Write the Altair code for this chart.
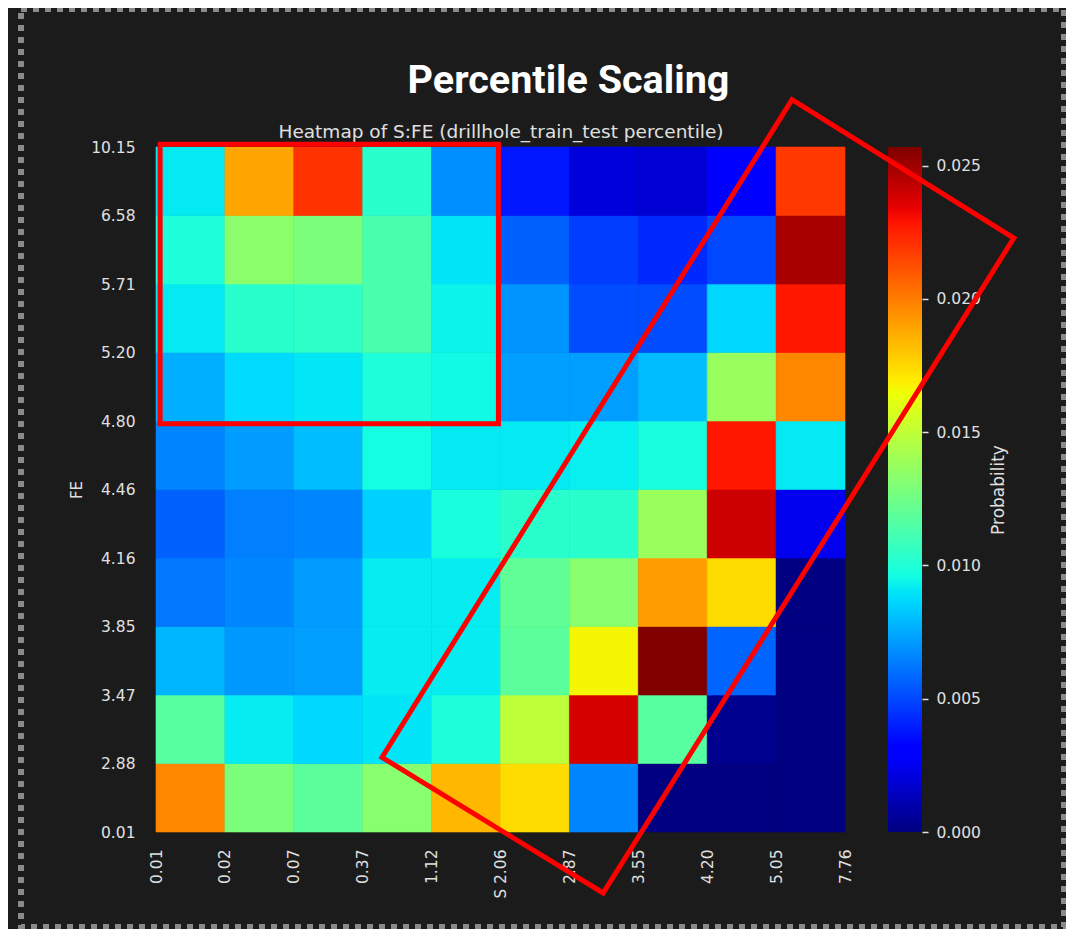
import json
import altair as alt
import pandas as pd

# ---------------- data ----------------
s_edges = ["0.01", "0.02", "0.07", "0.37", "1.12", "2.06", "2.87", "3.55", "4.20", "5.05", "7.76"]
fe_edges = ["0.01", "2.88", "3.47", "3.85", "4.16", "4.46", "4.80", "5.20", "5.71", "6.58", "10.15"]

# probabilities per FE bin (rows), columns follow the S bins left -> right
prob_fe_658_1015 = [0.00912, 0.01886, 0.02200, 0.01028, 0.00681, 0.00380, 0.00208, 0.00190, 0.00296, 0.02187]
prob_fe_571_658 = [0.00989, 0.01336, 0.01285, 0.01131, 0.00900, 0.00565, 0.00475, 0.00424, 0.00504, 0.02480]
prob_fe_520_571 = [0.00912, 0.01028, 0.01041, 0.01131, 0.00938, 0.00694, 0.00514, 0.00514, 0.00866, 0.02277]
prob_fe_480_520 = [0.00763, 0.00874, 0.00905, 0.00989, 0.00951, 0.00720, 0.00720, 0.00797, 0.01378, 0.01971]
prob_fe_446_480 = [0.00655, 0.00714, 0.00797, 0.00964, 0.00912, 0.00912, 0.00925, 0.00977, 0.02277, 0.00912]
prob_fe_416_446 = [0.00565, 0.00643, 0.00663, 0.00848, 0.00977, 0.01028, 0.01028, 0.01378, 0.02400, 0.00244]
prob_fe_385_416 = [0.00625, 0.00663, 0.00714, 0.00917, 0.00917, 0.01203, 0.01324, 0.01915, 0.01740, 0.00000]
prob_fe_347_385 = [0.00784, 0.00707, 0.00720, 0.00917, 0.00917, 0.01182, 0.01665, 0.02570, 0.00573, 0.00000]
prob_fe_288_347 = [0.01169, 0.00917, 0.00866, 0.00900, 0.00989, 0.01491, 0.02382, 0.01169, 0.00033, 0.00005]
prob_fe_001_288 = [0.01971, 0.01285, 0.01182, 0.01324, 0.01840, 0.01740, 0.00663, 0.00000, 0.00000, 0.00000]

rows_bottom_to_top = [
    prob_fe_001_288, prob_fe_288_347, prob_fe_347_385, prob_fe_385_416, prob_fe_416_446,
    prob_fe_446_480, prob_fe_480_520, prob_fe_520_571, prob_fe_571_658, prob_fe_658_1015,
]

# annotation outlines, in bin-index units (closed by repeating the first two vertices)
box_x = [0.06, 4.97, 4.97, 0.06, 0.06, 4.97]
box_y = [10.04, 10.04, 5.96, 5.96, 10.04, 10.04]
poly_x = [9.23, 12.45, 6.49, 3.28, 9.23, 12.45]
poly_y = [10.69, 8.67, -0.89, 1.09, 10.69, 8.67]

# jet colormap key points
jet_t = [0.0, 0.11, 0.125, 0.34, 0.35, 0.375, 0.64, 0.65, 0.66, 0.89, 0.91, 1.0]
jet_c = ["#000080", "#0000ff", "#0000ff", "#00dbff", "#00e5f7", "#14ffe2",
         "#eeff08", "#f7f500", "#ffec00", "#ff1300", "#e80000", "#800000"]

# ---------------- tables ----------------
records = []
for j, row in enumerate(rows_bottom_to_top):
    for i, v in enumerate(row):
        records.append({
            "x0": i, "x1": i + 1, "y0": j, "y1": j + 1, "prob": v,
            "S": f"{s_edges[i]}-{s_edges[i + 1]}", "FE": f"{fe_edges[j]}-{fe_edges[j + 1]}",
        })
df = pd.DataFrame(records)
vmax = float(df["prob"].max())

ann = []
for name, xs, ys in (("box", box_x, box_y), ("poly", poly_x, poly_y)):
    for k, (a, b) in enumerate(zip(xs, ys)):
        ann.append({"shape": name, "k": k, "px": a, "py": b})
ann_df = pd.DataFrame(ann)

TXT = "#e0e0e0"
FONT = "DejaVu Sans"
W, H = 689, 685

x_scale = alt.Scale(domain=[0, 10], nice=False, zero=False)
y_scale = alt.Scale(domain=[0, 10], nice=False, zero=False)

color_scale = alt.Scale(domain=[t * vmax for t in jet_t], range=jet_c, interpolate="rgb")

heat = alt.Chart(df).mark_rect(strokeWidth=0.6).encode(
    x=alt.X("x0:Q", scale=x_scale, axis=alt.Axis(
        orient="bottom", values=list(range(11)), labelExpr=json.dumps(s_edges) + "[datum.value]",
        labelAngle=270, labelPadding=17, tickSize=0, ticks=False, domain=False, grid=False,
        title="S", titleAngle=270, titleAlign="right", titleBaseline="middle", titlePadding=5)),
    x2="x1:Q",
    y=alt.Y("y0:Q", scale=y_scale, axis=alt.Axis(
        orient="left", values=list(range(11)), labelExpr=json.dumps(fe_edges) + "[datum.value]",
        labelPadding=21, tickSize=0, ticks=False, domain=False, grid=False,
        title="FE", titlePadding=6)),
    y2="y1:Q",
    color=alt.Color("prob:Q", scale=color_scale, legend=None),
    stroke=alt.Stroke("prob:Q", scale=color_scale, legend=None),
    tooltip=["S:N", "FE:N", alt.Tooltip("prob:Q", format=".4f")],
)

grad = alt.LinearGradient(
    gradient="linear",
    stops=[alt.GradientStop(offset=t, color=c) for t, c in zip(jet_t, jet_c)],
    x1=0, x2=0, y1=1, y2=0,
)
cbar = alt.Chart(pd.DataFrame({"lo": [0.0], "hi": [vmax]})).mark_rect(fill=grad, strokeWidth=0).encode(
    x=alt.value(732), x2=alt.value(766),
    y=alt.Y("lo:Q", scale=alt.Scale(domain=[0, vmax], nice=False, zero=False), axis=alt.Axis(
        orient="right", offset=77, values=[0, 0.005, 0.01, 0.015, 0.02, 0.025], format=".3f",
        tickSize=6, tickWidth=1.5, tickColor=TXT, domain=False, grid=False, labelPadding=8,
        title="Probability", titleAngle=270, titleBaseline="top", titlePadding=10, titleFontSize=17)),
    y2="hi:Q",
)

lines = alt.Chart(ann_df).mark_line(color="#ff0000", strokeWidth=5, strokeJoin="miter", clip=False).encode(
    x=alt.X("px:Q", scale=x_scale, axis=alt.Axis(
        orient="top", labels=False, ticks=False, domain=False, grid=False,
        title="Heatmap of S:FE (drillhole_train_test percentile)", titleFontSize=18.5, titlePadding=6)),
    y=alt.Y("py:Q", scale=y_scale, axis=None),
    detail="shape:N",
    order="k:Q",
)

border = alt.Chart(pd.DataFrame({"k": [0]})).mark_rect(
    filled=False, stroke="#8a8a8a", strokeWidth=6, strokeDash=[6, 6]
).encode(x=alt.value(-135), x2=alt.value(908), y=alt.value(-138), y2=alt.value(780))

chart = alt.layer(border, heat, cbar, lines).resolve_scale(y="independent").resolve_axis(
    x="independent", y="independent"
).properties(
    width=W, height=H,
    autosize=alt.AutoSizeParams(type="none"),
    padding={"left": 148, "top": 139, "right": 221, "bottom": 97},
    title=alt.TitleParams(
        "Percentile Scaling", font="Roboto", fontSize=39.5, fontWeight="bold", color="#ffffff",
        anchor="middle", frame="group", dx=68, dy=95, offset=0,
    ),
).configure(background="#1b1b1b").configure_view(stroke=None).configure_axis(
    labelFont=FONT, labelFontSize=15.5, labelColor=TXT, titleFont=FONT, titleFontSize=15,
    titleColor=TXT, titleFontWeight="normal",
)

chart.save("out.html", embed_options={"renderer": "svg", "actions": False})
